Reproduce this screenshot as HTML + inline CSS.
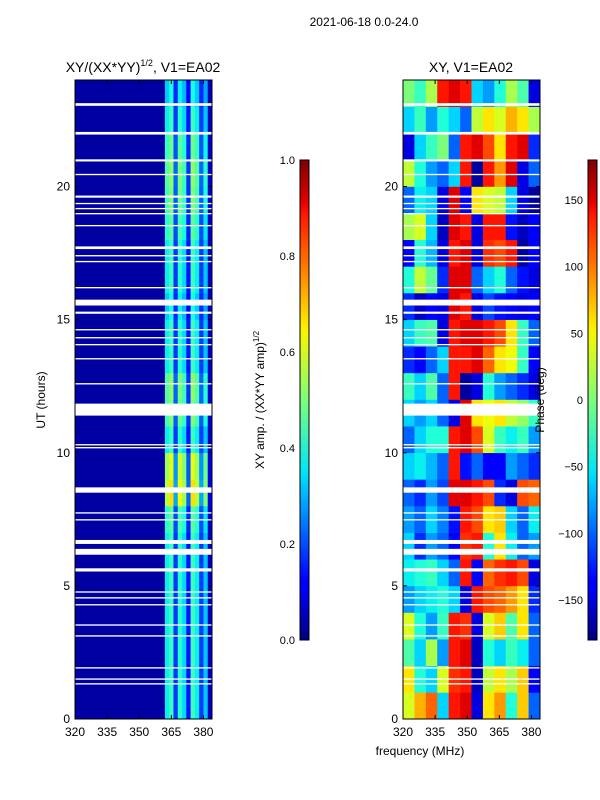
<!DOCTYPE html>
<html><head><meta charset="utf-8"><style>
html,body{margin:0;padding:0;background:#fff;}
svg{display:block;font-family:"Liberation Sans",sans-serif;}
</style></head><body>
<svg id="fig" width="600" height="800" viewBox="0 0 600 800">
<defs>
<linearGradient id="jet" x1="0" y1="1" x2="0" y2="0">
<stop offset="0" stop-color="#00007f"/><stop offset="0.11" stop-color="#0000ff"/><stop offset="0.125" stop-color="#0000ff"/>
<stop offset="0.34" stop-color="#00dbff"/><stop offset="0.35" stop-color="#00e5f8"/><stop offset="0.5" stop-color="#7cff79"/>
<stop offset="0.64" stop-color="#f6f800"/><stop offset="0.66" stop-color="#ffe600"/><stop offset="0.89" stop-color="#ff1300"/>
<stop offset="0.91" stop-color="#e80000"/><stop offset="1" stop-color="#7f0000"/>
</linearGradient>
</defs>
<text x="364" y="26" font-size="12" text-anchor="middle">2021-06-18 0.0-24.0</text>
<text x="143" y="72" font-size="14" text-anchor="middle">XY/(XX*YY)<tspan font-size="9" dy="-6">1/2</tspan><tspan dy="6">, V1=EA02</tspan></text>
<text x="471" y="72" font-size="14" text-anchor="middle">XY, V1=EA02</text>
<g id="left"></g>
<g id="right"></g>
<g id="axes"></g>
<rect x="300" y="160" width="9" height="480" fill="url(#jet)" stroke="#000" stroke-width="1"/>
<rect x="588" y="160" width="9" height="480" fill="url(#jet)" stroke="#000" stroke-width="1"/>
<text transform="translate(264,400) rotate(-90)" font-size="12" text-anchor="middle">XY amp. / (XX*YY amp)<tspan font-size="8" dy="-5">1/2</tspan></text>
<text transform="translate(544,400) rotate(-90)" font-size="12" text-anchor="middle">Phase (deg)</text>
<text transform="translate(45,400) rotate(-90)" font-size="12" text-anchor="middle">UT (hours)</text>
<text x="420" y="755" font-size="12" text-anchor="middle">frequency (MHz)</text>
</svg>
<script>
const ampFreqBins=[320,362,364,366,368,370,372,374,376,378,380,382,384];
const ampProfile=[0.03,0.36,0.42,0.18,0.4,0.34,0.14,0.42,0.36,0.18,0.32,0.06];
const ampHourGain=[1.0,1.0,1.0,1.0,1.0,1.0,1.0,1.1,1.6,1.5,1.0,1.2,1.25,1.0,1.0,0.9,1.0,1.0,1.1,1.2,1.25,1.15,1.0,0.9];
const phaseGrid=[
[40,80,110,-60,140,150,-150,60,90,-40,70,-100],
[60,-40,-60,40,130,140,-160,30,60,20,70,-140],
[-20,-60,20,-80,140,150,-160,-40,-60,-30,-50,-100],
[40,-40,-80,-30,140,130,-150,40,70,-20,60,-100],
[-80,-60,-50,-40,-60,-150,140,120,110,90,60,-120],
[-50,-40,-30,-60,-100,140,-140,110,130,140,120,-150],
[-60,-120,-80,-100,-140,130,140,-40,60,-50,-100,-80],
[-80,-100,-60,-90,-130,140,120,60,70,-60,-100,-50],
[-100,-120,-80,-110,150,150,140,120,-120,-150,120,110],
[-60,-50,-70,-100,140,-130,-100,-140,-140,-80,-100,-120],
[-100,-60,-40,-40,140,150,120,40,-30,-50,-30,-80],
[-60,-80,-60,-100,-150,150,60,50,60,30,10,-30],
[-30,-60,-20,-100,140,-170,-150,-40,-80,-100,-120,-150],
[-120,-140,-100,-60,140,140,150,110,60,50,-30,-140],
[-60,-30,-20,-150,140,150,150,140,120,60,-30,-100],
[-120,-160,-140,-150,150,140,-150,-110,-130,-140,-150,-140],
[-40,30,-10,-120,150,150,-100,-60,-40,-100,-130,-150],
[-140,-40,-70,-150,140,150,-150,130,120,140,-170,-140],
[20,40,-60,-160,150,140,-150,140,140,-130,-160,-140],
[-100,-50,-60,-150,150,-140,60,40,30,-60,-150,-170],
[30,-40,-80,-100,-60,140,-170,140,90,150,-150,-100],
[-150,-60,-30,0,-100,140,150,120,60,140,150,-120],
[-60,-30,-80,-40,-60,-100,30,60,40,80,60,20],
[0,-30,20,140,150,140,-60,-80,-40,20,-20,-150]];
const gapHours=[23.08,22.0,20.98,20.45,19.62,19.36,19.17,18.98,18.53,17.7,17.4,17.18,16.2,15.64,15.26,14.62,14.32,14.06,13.53,12.59,11.62,10.3,10.19,8.6,7.74,7.48,6.65,6.28,5.6,4.77,4.55,4.29,3.53,3.12,1.92,1.5,1.32];
const gapWidths=[0.1,0.1,0.08,0.05,0.08,0.05,0.05,0.05,0.05,0.1,0.05,0.05,0.05,0.22,0.08,0.05,0.05,0.05,0.05,0.05,0.45,0.05,0.05,0.2,0.05,0.05,0.15,0.22,0.12,0.05,0.05,0.05,0.05,0.05,0.05,0.05,0.05];
const xTicks=[320,335,350,365,380];
const yTicks=[0,5,10,15,20];
const ampTicks=[0.0,0.2,0.4,0.6,0.8,1.0];
const phaseTicks=[-150,-100,-50,0,50,100,150];

const NS='http://www.w3.org/2000/svg';
const F0=320,F1=384,H1=24,PW=137,PT=80,PB=719;
const panels={left:75,right:403};
function xs(x0,f){return x0+(f-F0)/(F1-F0)*PW;}
function ys(h){return PB-h/H1*(PB-PT);}
function jet(v){v=Math.max(0,Math.min(1,v));
 function seg(pts){for(let i=1;i<pts.length;i++){if(v<=pts[i][0]){const a=pts[i-1],b=pts[i];return a[1]+(b[1]-a[1])*(v-a[0])/(b[0]-a[0]);}}return pts[pts.length-1][1];}
 const r=seg([[0,0],[0.35,0],[0.66,1],[0.89,1],[1,0.5]]);
 const g=seg([[0,0],[0.125,0],[0.375,1],[0.64,1],[0.91,0],[1,0]]);
 const b=seg([[0,0.5],[0.11,1],[0.34,1],[0.65,0],[1,0]]);
 return 'rgb('+Math.round(r*255)+','+Math.round(g*255)+','+Math.round(b*255)+')';}
function mk(tag,attrs,parent){const e=document.createElementNS(NS,tag);for(const k in attrs)e.setAttribute(k,attrs[k]);parent.appendChild(e);return e;}

const gl=document.getElementById('left');
for(let h=0;h<ampHourGain.length;h++){
 for(let i=0;i<ampProfile.length;i++){
  const xa=xs(panels.left,ampFreqBins[i]),xb=xs(panels.left,ampFreqBins[i+1]);
  const r=mk('rect',{x:xa,y:ys(h+1),width:xb-xa+0.3,height:ys(h)-ys(h+1)+0.3,fill:jet(ampProfile[i]*(i===0?1:ampHourGain[h]))},gl);
  
  
 }
}
const gr=document.getElementById('right');
const nc=phaseGrid[0].length,cw=(F1-F0)/nc;
for(let h=0;h<phaseGrid.length;h++){
 for(let c=0;c<nc;c++){
  const xa=xs(panels.right,F0+c*cw),xb=xs(panels.right,F0+(c+1)*cw);
  const r=mk('rect',{x:xa,y:ys(h+1),width:xb-xa+0.3,height:ys(h)-ys(h+1)+0.3,fill:jet((phaseGrid[h][c]+180)/360)},gr);
  
  
 }
}
const ax=document.getElementById('axes');
for(const p in panels){
 const x0=panels[p];
 for(let i=0;i<gapHours.length;i++){
  const w=Math.max(gapWidths[i]*(PB-PT)/H1,1.3);
  const g=mk('rect',{x:x0,y:ys(gapHours[i])-w/2,width:PW,height:w,fill:'#fff'},ax);
  
  
 }
 const fr=mk('rect',{x:x0,y:PT,width:PW,height:PB-PT,fill:'none',stroke:'#000','stroke-width':1},ax);
 
 
 for(const t of xTicks){
  const x=xs(x0,t);
  mk('line',{x1:x,x2:x,y1:PB,y2:PB-4,stroke:'#000'},ax);
  mk('line',{x1:x,x2:x,y1:PT,y2:PT+4,stroke:'#000'},ax);
  const tx=mk('text',{x:x,y:PB+17,'font-size':12,'text-anchor':'middle'},ax);
  tx.textContent=t;
  
  
 }
 for(const t of yTicks){
  const y=ys(t);
  mk('line',{x1:x0,x2:x0+4,y1:y,y2:y,stroke:'#000'},ax);
  mk('line',{x1:x0+PW,x2:x0+PW-4,y1:y,y2:y,stroke:'#000'},ax);
  const tx=mk('text',{x:x0-5,y:y+4,'font-size':12,'text-anchor':'end'},ax);
  tx.textContent=t;
  
  
 }
}
function cbTicks(x,vals,lo,hi,fmt){
 for(const v of vals){
  const y=640-(v-lo)/(hi-lo)*480;
  mk('line',{x1:x,x2:x+9,y1:y,y2:y,stroke:'#000','stroke-width':0.8},ax);
  const tx=mk('text',{x:x-5,y:y+4,'font-size':11,'text-anchor':'end'},ax);
  tx.textContent=fmt(v);
  
  
 }
}
cbTicks(300,ampTicks,0,1,v=>v.toFixed(1));
cbTicks(588,phaseTicks,-180,180,v=>v<0?'\u2212'+(-v):String(v));
</script>
</body></html>
